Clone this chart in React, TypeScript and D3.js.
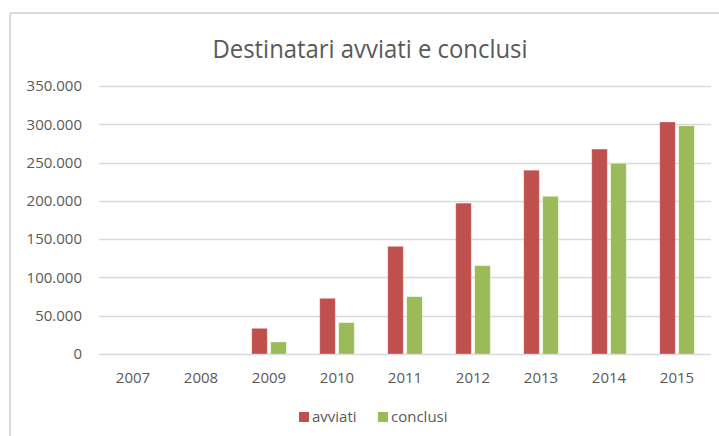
import React from "react";
import * as d3 from "d3";

const years = ["2007", "2008", "2009", "2010", "2011", "2012", "2013", "2014", "2015"];
const avviati = [0, 0, 33500, 72700, 140600, 197000, 240000, 267600, 303000];
const conclusi = [0, 0, 15700, 40900, 74800, 115300, 205900, 249000, 298000];
const yTicks = [0, 50000, 100000, 150000, 200000, 250000, 300000, 350000];
const seriesNames = ["avviati", "conclusi"];
const colors = ["#C0504D", "#9BBB59"];

const W = 719;
const H = 436;
const left = 99;
const right = 711;
const top = 86;
const bottom = 354;
const font = "'Open Sans', 'Noto Sans', sans-serif";
const textColor = "#595959";

export default function App() {
  const x = d3.scaleBand<string>().domain(years).range([left, right]).paddingInner(0).paddingOuter(0);
  const y = d3.scaleLinear().domain([0, 350000]).range([bottom, top]);
  const barW = 15.5;
  const gap = 3.5;
  const fmt = (v: number) => (v === 0 ? "0" : d3.format(",")(v).replace(/,/g, "."));
  const series = [avviati, conclusi];

  return (
    <svg width={W} height={H} style={{ position: "absolute", left: 0, top: 0, background: "#fff" }}>
      <rect x={0} y={0} width={W} height={H} fill="#fff" />
      {/* frame */}
      <line x1={10} y1={13} x2={W} y2={13} stroke="#D9D9D9" strokeWidth={2} />
      <line x1={10} y1={13} x2={10} y2={H} stroke="#D9D9D9" strokeWidth={2} />
      {/* title */}
      <text
        x={370}
        y={58}
        textAnchor="middle"
        fontFamily={font}
        fontSize={26}
        fill={textColor}
        textLength={315}
        lengthAdjust="spacingAndGlyphs"
      >
        Destinatari avviati e conclusi
      </text>
      {/* grid */}
      {yTicks.map((t) => (
        <g key={t}>
          <line x1={left} x2={right} y1={Math.round(y(t)) + 0.5} y2={Math.round(y(t)) + 0.5} stroke="#D9D9D9" strokeWidth={1.3} />
          <text x={82} y={y(t)} dy="0.35em" textAnchor="end" fontFamily={font} fontSize={15} fill={textColor}>
            {fmt(t)}
          </text>
        </g>
      ))}
      {/* bars */}
      {years.map((yr, i) => {
        const cx = (x(yr) as number) + x.bandwidth() / 2;
        return (
          <g key={yr}>
            {series.map((s, k) => {
              const v = s[i];
              if (v <= 0) return null;
              const bx = k === 0 ? cx - gap / 2 - barW : cx + gap / 2;
              return (
                <rect
                  key={k}
                  x={bx}
                  y={y(v)}
                  width={barW}
                  height={y(0) - y(v)}
                  fill={colors[k]}
                  stroke="#fff"
                  strokeOpacity={0.35}
                  strokeWidth={0.8}
                />
              );
            })}
            <text x={cx} y={383} textAnchor="middle" fontFamily={font} fontSize={15} fill={textColor}>
              {yr}
            </text>
          </g>
        );
      })}
      {/* legend */}
      <g>
        <rect x={299} y={412} width={10} height={10} fill={colors[0]} />
        <text x={312} y={422} fontFamily={font} fontSize={15} fill={textColor}>
          {seriesNames[0]}
        </text>
        <rect x={378} y={412} width={10} height={10} fill={colors[1]} />
        <text x={391} y={422} fontFamily={font} fontSize={15} fill={textColor}>
          {seriesNames[1]}
        </text>
      </g>
    </svg>
  );
}
